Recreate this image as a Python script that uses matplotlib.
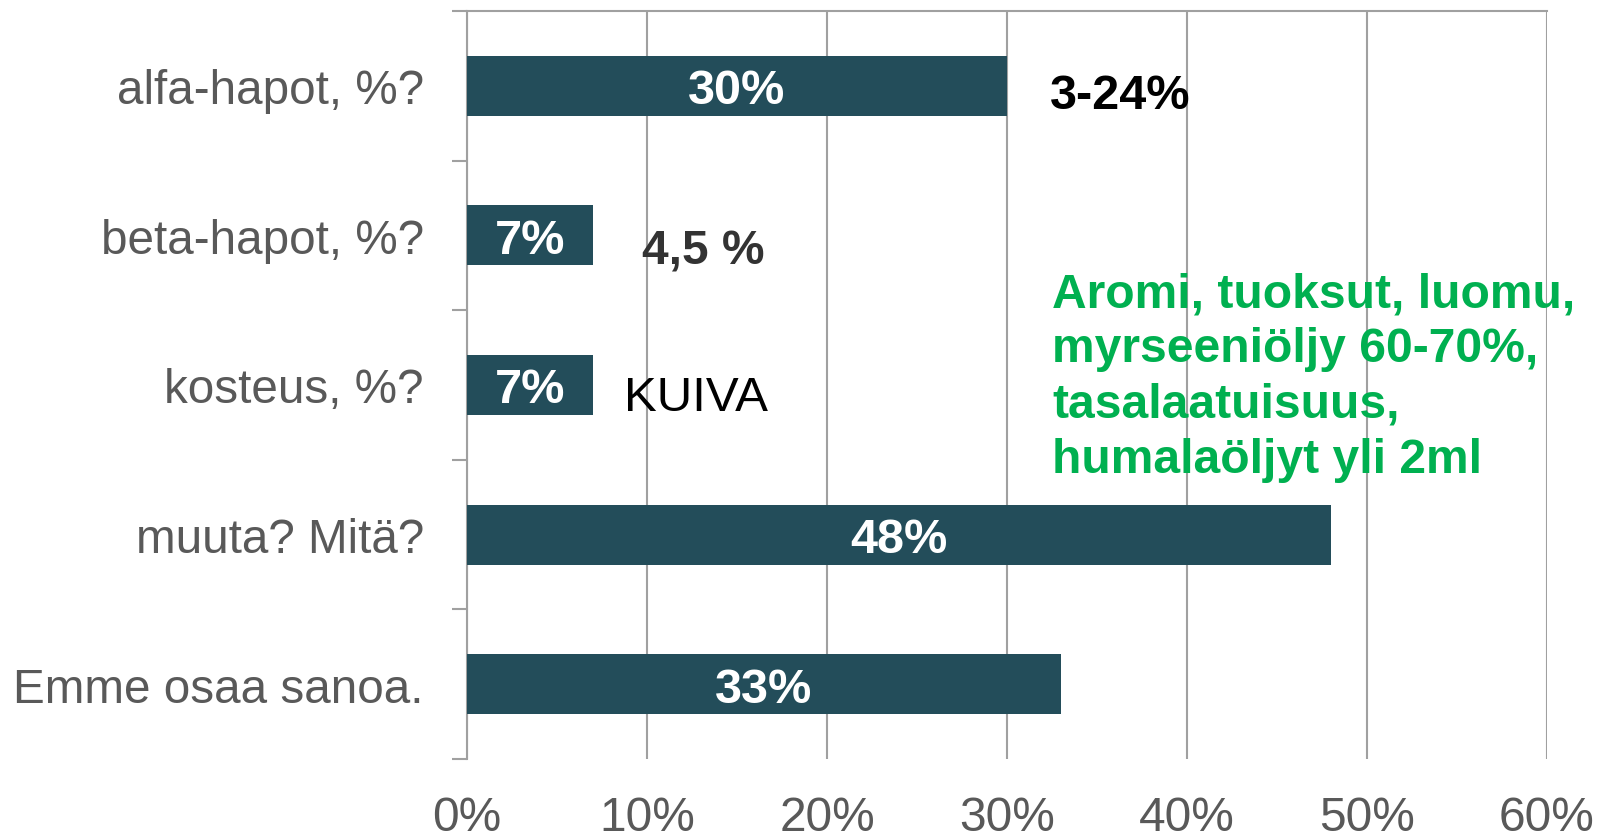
import matplotlib
matplotlib.use("Agg")
import matplotlib.pyplot as plt
from matplotlib.ticker import FixedLocator, PercentFormatter

plt.rcParams['font.family'] = ['Liberation Sans', 'DejaVu Sans']

categories = ["alfa-hapot, %?", "beta-hapot, %?", "kosteus, %?", "muuta? Mitä?", "Emme osaa sanoa."]
values = [30, 7, 7, 48, 33]
bar_labels = ["30%", "7%", "7%", "48%", "33%"]
x_ticks = [0, 10, 20, 30, 40, 50, 60]

# free-text answers written next to the bars
notes = ["3-24%", "4,5 %", "KUIVA"]
note_x = [32.4, 9.75, 8.7]
note_y = [0.15, 1.185, 2.165]
green_note = "Aromi, tuoksut, luomu,\nmyrseeniöljy 60-70%,\ntasalaatuisuus,\nhumalaöljyt yli 2ml"

bar_color = "#234D5A"
grid_color = "#A0A0A0"
label_color = "#595959"

fig = plt.figure(figsize=(15.99, 8.37), dpi=100)
ax = fig.add_axes([467 / 1599, 1 - 760 / 837, 1080 / 1599, 748 / 837])

ypos = list(range(len(categories)))
bars = ax.barh(ypos, values, height=0.4, color=bar_color, zorder=3)
for bar, lab in zip(bars, bar_labels):
    ax.text(bar.get_x() + bar.get_width() / 2, bar.get_y() + bar.get_height() / 2, lab,
            ha="center", va="center_baseline", color="white", fontsize=35, fontweight="bold",
            zorder=4)

ax.set_xlim(0, 60)
ax.set_ylim(len(categories) - 0.5, -0.5)

ax.set_xticks(x_ticks)
ax.xaxis.set_major_formatter(PercentFormatter(decimals=0))
ax.tick_params(axis="x", length=0, pad=26, labelsize=34.5, labelcolor=label_color)
ax.xaxis.grid(True, color=grid_color, linewidth=1.5, zorder=0)

ax.set_yticks(ypos)
ax.set_yticklabels(categories)
ax.yaxis.set_minor_locator(FixedLocator([i - 0.5 for i in range(len(categories) + 1)]))
ax.tick_params(axis="y", which="major", length=0, pad=31, labelsize=34.3, labelcolor=label_color)
ax.tick_params(axis="y", which="minor", length=11, width=1.5, color=grid_color)

for side in ["bottom", "right"]:
    ax.spines[side].set_visible(False)
for side in ["left", "top"]:
    ax.spines[side].set_color(grid_color)
    ax.spines[side].set_linewidth(1.5)

ax.text(note_x[0], note_y[0], notes[0], fontsize=35, fontweight="bold", color="black",
        va="baseline", ha="left", zorder=5)
ax.text(note_x[1], note_y[1], notes[1], fontsize=34.5, fontweight="bold", color="#333333",
        va="baseline", ha="left", zorder=5)
ax.text(note_x[2], note_y[2], notes[2], fontsize=35.5, color="black",
        va="baseline", ha="left", zorder=5)
ax.text(32.5, 1.24, green_note, fontsize=34.6, fontweight="bold", color="#00B050",
        va="top", ha="left", linespacing=1.29, zorder=5)

fig.savefig("out.png", dpi=100)
